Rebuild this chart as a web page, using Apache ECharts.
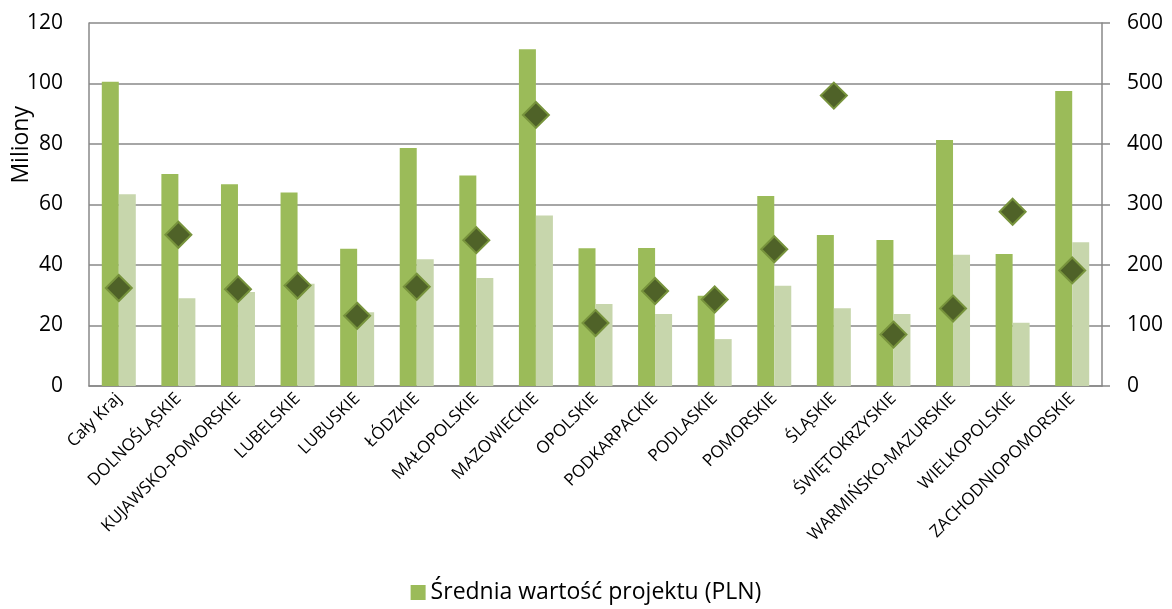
<!DOCTYPE html>
<html>
<head>
<meta charset="utf-8">
<script src="https://cdn.jsdelivr.net/npm/echarts@6/dist/echarts.min.js"></script>
<style>html,body{margin:0;padding:0;background:#fff;}#c{width:1172px;height:609px;}</style>
</head>
<body>
<div id="c"></div>
<script>
const categories = ["Cały Kraj","DOLNOŚLĄSKIE","KUJAWSKO-POMORSKIE","LUBELSKIE","LUBUSKIE","ŁÓDZKIE","MAŁOPOLSKIE","MAZOWIECKIE","OPOLSKIE","PODKARPACKIE","PODLASKIE","POMORSKIE","ŚLĄSKIE","ŚWIĘTOKRZYSKIE","WARMIŃSKO-MAZURSKIE","WIELKOPOLSKIE","ZACHODNIOPOMORSKIE"];
const sredniaWartosc = [100.6,70.1,66.7,64.0,45.4,78.7,69.6,111.3,45.5,45.6,29.8,62.8,49.9,48.3,81.3,43.6,97.5];
const drugaSeria = [63.4,29.0,31.1,33.8,24.4,41.9,35.7,56.4,27.1,23.8,15.5,33.1,25.7,23.8,43.4,20.9,47.5];
const liczbaProjektow = [162,250,160,166,116,164,241,448,104,157,143,226,480,85,128,288,191];
const leftTicks = {min:0,max:120,interval:20};
const rightTicks = {min:0,max:600,interval:100};

const font = "'Open Sans', sans-serif";
const chart = echarts.init(document.getElementById('c'), null, {renderer:'canvas'});
chart.setOption({
  animation:false,
  textStyle:{fontFamily:font},
  grid:{left:89,right:70,top:23,bottom:223},
  legend:{
    data:['Średnia wartość projektu (PLN)'],
    bottom:0, left:'center',
    icon:'rect', itemWidth:15, itemHeight:15, itemGap:8,
    textStyle:{fontSize:23,color:'#000',fontFamily:font}
  },
  graphic:[{
    type:'text', left:10, top:106, rotation:Math.PI/2,
    style:{text:'Miliony', fill:'#000', font:"23px 'Open Sans', sans-serif"}
  }],
  xAxis:{
    type:'category', data:categories,
    axisLine:{show:true,lineStyle:{color:'#888',width:1.5}},
    axisTick:{show:false},
    axisLabel:{rotate:45,interval:0,fontSize:17,color:'#000',margin:10,fontFamily:font}
  },
  yAxis:[{
    type:'value', min:leftTicks.min, max:leftTicks.max, interval:leftTicks.interval,
    axisLine:{show:true,lineStyle:{color:'#888',width:1.5}},
    axisTick:{show:false},
    splitLine:{show:true,lineStyle:{color:'#888',width:1.5}},
    axisLabel:{fontSize:21,color:'#000',margin:26,fontFamily:font}
  },{
    type:'value', min:rightTicks.min, max:rightTicks.max, interval:rightTicks.interval,
    position:'right',
    axisLine:{show:true,lineStyle:{color:'#888',width:1.5}},
    axisTick:{show:true,length:8,lineStyle:{color:'#888',width:1.5}},
    splitLine:{show:false},
    axisLabel:{fontSize:21,color:'#000',margin:25,fontFamily:font}
  }],
  series:[{
    name:'Średnia wartość projektu (PLN)', type:'bar', data:sredniaWartosc,
    barWidth:17, barGap:'0%', itemStyle:{color:'#9BBB59'}
  },{
    name:'Seria 2', type:'bar', data:drugaSeria,
    barWidth:17, barGap:'0%', itemStyle:{color:'#C7D6AC'}
  },{
    name:'Seria 3', type:'scatter', yAxisIndex:1, data:liczbaProjektow,
    symbol:'diamond', symbolSize:26, z:5,
    itemStyle:{color:'#4F6228',borderColor:'#77933C',borderWidth:2,opacity:1}
  }]
});
</script>
</body>
</html>
